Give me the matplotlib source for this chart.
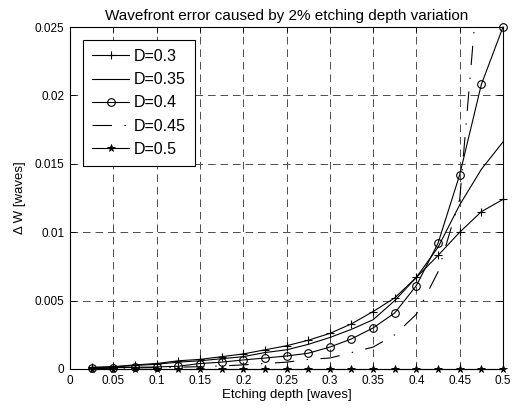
import matplotlib
matplotlib.use('Agg')
import matplotlib.pyplot as plt

# etching depth [waves]
depth = [0.025, 0.05, 0.075, 0.1, 0.125, 0.15, 0.175, 0.2, 0.225, 0.25,
         0.275, 0.3, 0.325, 0.35, 0.375, 0.4, 0.425, 0.45, 0.475, 0.5]

# delta W [waves] for each D
dw_030 = [0.00012, 0.00017, 0.0003, 0.0004, 0.0006, 0.0007, 0.0009, 0.0011, 0.0014, 0.0017,
          0.0021, 0.0026, 0.0033, 0.0042, 0.0052, 0.0067, 0.0083, 0.0100, 0.0115, 0.0124]
dw_035 = [0.0001, 0.00015, 0.00025, 0.00035, 0.0005, 0.0006, 0.00075, 0.0009, 0.0012, 0.0014,
          0.0018, 0.0023, 0.0029, 0.0036, 0.0050, 0.0067, 0.0089, 0.0120, 0.0146, 0.0166]
dw_040 = [0.00005, 0.0001, 0.00012, 0.00015, 0.0002, 0.0004, 0.0005, 0.00066, 0.0008, 0.00095,
          0.00115, 0.0016, 0.0022, 0.0030, 0.0041, 0.0061, 0.0092, 0.0142, 0.0208, 0.0250]
dw_045 = [0.00003, 0.00005, 0.00008, 0.0001, 0.00013, 0.00017, 0.00022, 0.0003, 0.0004, 0.0005,
          0.0007, 0.0008, 0.0012, 0.0016, 0.0025, 0.0040, 0.0071, 0.0124, 0.0310, 0.0400]
dw_050 = [0.0] * 20

labels = ['D=0.3', 'D=0.35', 'D=0.4', 'D=0.45', 'D=0.5']

xticks = [0, 0.05, 0.1, 0.15, 0.2, 0.25, 0.3, 0.35, 0.4, 0.45, 0.5]
xticklabels = ['0', '0.05', '0.1', '0.15', '0.2', '0.25', '0.3', '0.35', '0.4', '0.45', '0.5']
yticks = [0, 0.005, 0.01, 0.015, 0.02, 0.025]
yticklabels = ['0', '0.005', '0.01', '0.015', '0.02', '0.025']

plt.rcParams['font.family'] = ['Liberation Sans', 'DejaVu Sans']
plt.rcParams['lines.scale_dashes'] = False

fig = plt.figure(figsize=(5.13, 4.12), dpi=100)
ax = fig.add_axes([0.1365, 0.1044, 0.844, 0.830])

lw = 0.8
ax.plot(depth, dw_030, '-', color='k', lw=lw, marker='+', ms=6, mew=0.8,
        label=labels[0], clip_on=False, zorder=3)
ax.plot(depth, dw_035, '-', color='k', lw=lw, label=labels[1], zorder=3)
ax.plot(depth, dw_040, '-', color='k', lw=lw, marker='o', ms=5.5, mfc='none', mew=0.8,
        label=labels[2], clip_on=False, zorder=3)
ax.plot(depth, dw_045, color='k', lw=lw, linestyle=(0, (14, 9, 1, 9)),
        label=labels[3], zorder=3)
ax.plot(depth, dw_050, '-', color='k', lw=lw, marker='*', ms=5.5, mew=0.6,
        label=labels[4], clip_on=False, zorder=3)

ax.set_xlim(0, 0.5)
ax.set_ylim(0, 0.025)
ax.set_xticks(xticks)
ax.set_xticklabels(xticklabels)
ax.set_yticks(yticks)
ax.set_yticklabels(yticklabels)
ax.tick_params(direction='in', length=4, width=0.6, top=True, right=True,
               labelsize=8.5, pad=4)
ax.grid(True, color='0.3', linestyle=(0, (5.5, 3.5)), linewidth=0.7)
for s in ax.spines.values():
    s.set_linewidth(0.8)

ax.set_title('Wavefront error caused by 2% etching depth variation', fontsize=11, pad=5)
ax.set_xlabel('Etching depth [waves]', fontsize=9.5, labelpad=2)
ax.set_ylabel('\u0394 W [waves]', fontsize=9.5, labelpad=6)

leg = ax.legend(loc='upper left', bbox_to_anchor=(0.03, 0.962), borderaxespad=0,
                fontsize=11.5, handlelength=2.35, handletextpad=0.3, labelspacing=0.52,
                borderpad=0.55, fancybox=False, framealpha=1, edgecolor='k')
leg.get_frame().set_linewidth(0.8)

fig.savefig('out.png', dpi=100)
